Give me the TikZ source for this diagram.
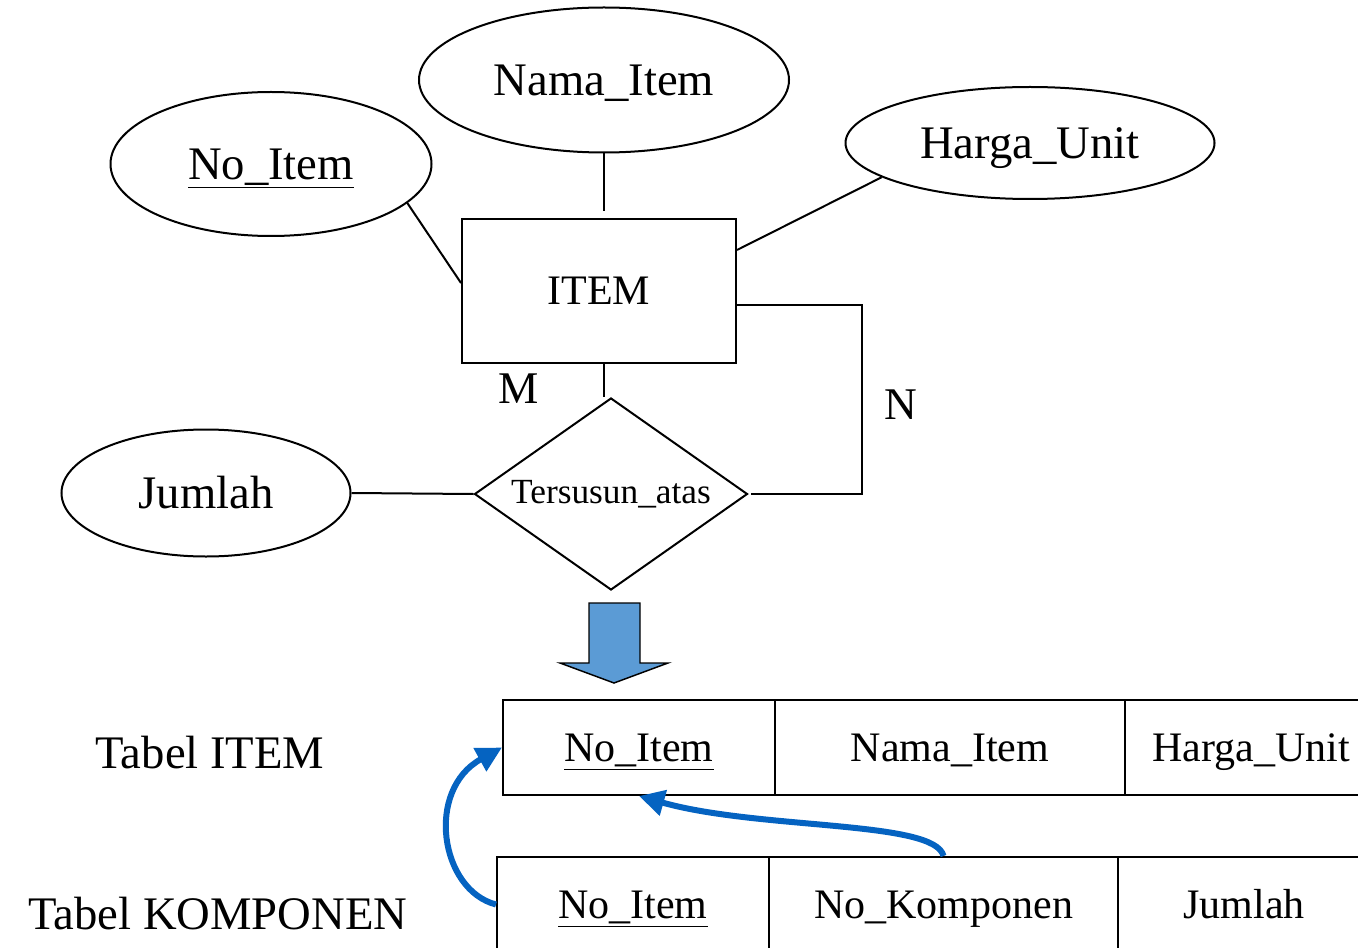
\documentclass[tikz,border=0pt]{standalone}
\usepackage{fontspec}
\setmainfont{Liberation Serif}
\usetikzlibrary{shapes.geometric,arrows.meta}
\definecolor{linkblue}{HTML}{0563C1}
\definecolor{blockblue}{HTML}{5B9BD5}
\begin{document}
\begin{tikzpicture}[x=0.75pt,y=-0.75pt,
  base/.style={line width=1.5pt},
  attr/.style={base,draw,ellipse,inner sep=0pt,text height=23pt,text depth=0pt,font=\fontsize{35}{40}\selectfont},
  entity/.style={base,draw,rectangle,inner sep=0pt,text height=21pt,text depth=0pt,minimum width=205.5pt,minimum height=108pt,font=\fontsize{31.5}{36}\selectfont},
  relation/.style={base,draw,diamond,aspect=1.42,inner sep=0pt,minimum width=204.75pt,minimum height=144pt,font=\fontsize{26.5}{30}\selectfont},
  card/.style={font=\fontsize{34}{38}\selectfont},
  cell/.style={base,draw,rectangle,inner sep=0pt,text height=21pt,text depth=0pt,minimum height=71.25pt,font=\fontsize{31.5}{36}\selectfont},
  tlabel/.style={font=\fontsize{35}{40}\selectfont},
  fk/.style={draw=linkblue,line width=4.5pt,-{Triangle[length=19pt,width=19pt]}}]
\useasboundingbox (0,0) rectangle (1358,948);
\clip (0,0) rectangle (1358,948);

% ER diagram: entity, attributes, relationship
\node[attr,minimum width=240.75pt,minimum height=108pt] (noitem) at (271,164) {\underline{No\_Item}};
\node[attr,minimum width=277.5pt,minimum height=108.75pt] (nama) at (604,80) {Nama\_Item};
\node[attr,minimum width=276.75pt,minimum height=84pt] (harga) at (1030,143) {Harga\_Unit};
\node[attr,minimum width=216.75pt,minimum height=95.25pt] (jumlah) at (206,493) {Jumlah};
\node[entity] (item) at (599,291) {ITEM};
\node[relation] (rel) at (611,494) {Tersusun\_atas};
\node[card] (m) at (519,389) {M};
\node[card] (n) at (901,405) {N};
\coordinate (corner) at (862,494);

\draw[base] (noitem.-16.5) -- ([yshift=6pt]item.west);
\draw[base,shorten >=5pt] (nama.south) -- (nama.south |- item.north);
\draw[base] (harga.193) -- ([yshift=30.75pt]item.east);
\draw[base] (item.south -| nama.south) -- (nama.south |- rel.north);
\draw[base] ([yshift=-10.5pt]item.east) -| (corner) -- ([xshift=2pt]rel.east);
\draw[base] (jumlah.east) -- (rel.west);

% block arrow towards the tables
\draw[line width=1.1pt,fill=blockblue] (589,603) -- (640,603) -- (640,663) -- (668,663)
  -- (614,683) -- (560,663) -- (589,663) -- cycle;

% relational tables
\node[tlabel] (lblitem) at (210,753) {Tabel ITEM};
\node[tlabel] (lblkomp) at (218,914) {Tabel KOMPONEN};

\node[cell,minimum width=204pt] (t1a) at (639,747.5) {\underline{No\_Item}};
\node[cell,minimum width=262.5pt] (t1b) at (950,747.5) {Nama\_Item};
\node[cell,minimum width=189pt] (t1c) at (1251,747.5) {Harga\_Unit};

\node[cell,minimum width=204pt] (t2a) at (633,904.5) {\underline{No\_Item}};
\node[cell,minimum width=261.75pt] (t2b) at (943.5,904.5) {No\_Komponen};
\node[cell,minimum width=189pt] (t2c) at (1244,904.5) {Jumlah};

% foreign key references
\draw[fk] (t2a.west) .. controls (440,890) and (425,790) .. (t1a.west);
\draw[fk] (t2b.north) .. controls (935,820) and (760,830) .. (t1a.south);
\end{tikzpicture}
\end{document}
